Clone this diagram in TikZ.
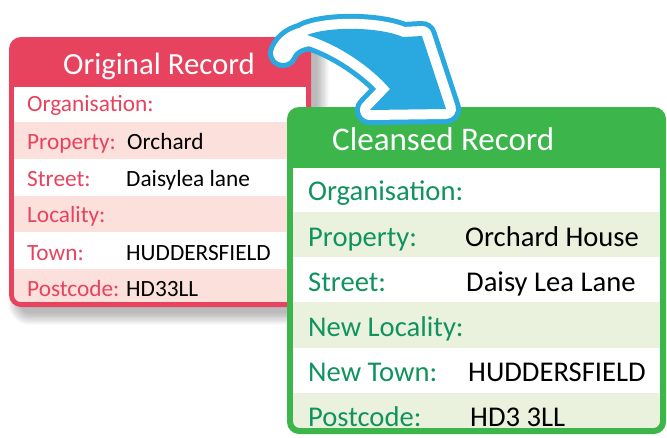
\documentclass[tikz,border=0pt]{standalone}
\usepackage{fontspec}
\setmainfont{Carlito}
\definecolor{recred}{HTML}{E8435E}
\definecolor{recpink}{HTML}{FCE0DC}
\definecolor{recgreen}{HTML}{3CB54A}
\definecolor{recmint}{HTML}{EAF2DE}
\definecolor{greenlabel}{HTML}{10935E}
\definecolor{arrowblue}{HTML}{29A9E0}
\begin{document}
\begin{tikzpicture}[x=1pt,y=-1pt,
  redtitle/.style={anchor=base, text=white, inner sep=0pt, font=\fontsize{30.8}{34}\selectfont},
  greentitle/.style={anchor=base west, text=white, inner sep=0pt, font=\fontsize{33}{38}\selectfont},
  redlabel/.style={anchor=base west, text=recred, inner sep=0pt, font=\fontsize{23.3}{27}\selectfont},
  redvalue/.style={anchor=base west, text=black, inner sep=0pt, font=\fontsize{23.3}{27}\selectfont},
  greenlbl/.style={anchor=base west, text=greenlabel, inner sep=0pt, font=\fontsize{28.6}{33}\selectfont},
  greenvalue/.style={anchor=base west, text=black, inner sep=0pt, font=\fontsize{28.6}{33}\selectfont},
  arrowline/.style={line join=round, line cap=round}]
\useasboundingbox (0,0) rectangle (667,437);

% soft shadow behind the original record card, cast down and to the right
\foreach \i [evaluate=\i as \r using 10+\i*1.3] in {0,...,9}
  \fill[black, opacity=0.032, rounded corners=\r pt]
    (20-\i*1.3, 48-\i*1.3) rectangle (317+\i*1.3, 313+\i*1.3);

% ---- original record card ----
\fill[recred, rounded corners=12pt] (9,37) rectangle (311,307);
\begin{scope}
  \clip[rounded corners=7pt] (14,80) rectangle (306,302);
  \fill[white]    (14,87)    rectangle (306,121.7);
  \fill[recpink]  (14,121.7) rectangle (306,159.3);
  \fill[white]    (14,159.3) rectangle (306,195.7);
  \fill[recpink]  (14,195.7) rectangle (306,232.3);
  \fill[white]    (14,232.3) rectangle (306,269);
  \fill[recpink]  (14,269)   rectangle (306,302);
\end{scope}
\node[redtitle] (otitle) at (159,74) {Original Record};
\node[redlabel] (oorg)  at (27,111.7) {Organisation:};
\node[redlabel] (oprop) at (27,149)   {Property:};
\node[redvalue] (oprv)  at (127,149)  {Orchard};
\node[redlabel] (ostr)  at (27,186)   {Street:};
\node[redvalue] (ostv)  at (126,186)  {Daisylea lane};
\node[redlabel] (oloc)  at (27,222.7) {Locality:};
\node[redlabel] (otown) at (27,260)   {Town:};
\node[redvalue] (otwv)  at (126,260)  {HUDDERSFIELD};
\node[redlabel] (opc)   at (27,296)   {Postcode:};
\node[redvalue] (opcv)  at (126,296)  {HD33LL};

% ---- cleansed record card ----
\fill[recgreen, rounded corners=12pt] (287,107) rectangle (666,434);
\begin{scope}
  \clip[rounded corners=7pt] (293,160) rectangle (660,428);
  \fill[white]   (293,168)   rectangle (660,211.7);
  \fill[recmint] (293,211.7) rectangle (660,256.7);
  \fill[white]   (293,256.7) rectangle (660,302.3);
  \fill[recmint] (293,302.3) rectangle (660,347.7);
  \fill[white]   (293,347.7) rectangle (660,393.3);
  \fill[recmint] (293,393.3) rectangle (660,428);
\end{scope}
\node[greentitle] (ctitle) at (332,150) {Cleansed Record};
\node[greenlbl]   (corg)  at (308,200)   {Organisation:};
\node[greenlbl]   (cprop) at (308,246)   {Property:};
\node[greenvalue] (cprv)  at (465,246)   {Orchard House};
\node[greenlbl]   (cstr)  at (308,291.7) {Street:};
\node[greenvalue] (cstv)  at (466,291.7) {Daisy Lea Lane};
\node[greenlbl]   (cloc)  at (308,336.7) {New Locality:};
\node[greenlbl]   (ctown) at (308,381.7) {New Town:};
\node[greenvalue] (ctwv)  at (468,381.7) {HUDDERSFIELD};
\node[greenlbl]   (cpc)   at (308,426.7) {Postcode:};
\node[greenvalue] (cpcv)  at (470,426.7) {HD3 3LL};

% ---- curved arrow: blue rim, white band, blue body ----
\draw[arrowline, arrowblue, line width=30pt]
  (309,36) .. controls (295,38) and (287,44) .. (283,53);
\draw[arrowline, arrowblue, line width=30pt]
  (307,35) .. controls (330,26) and (380,27) .. (403,37) -- (422,36) -- (446,109)
  -- (370,110) -- (390,89) .. controls (372,68) and (340,45) .. (307,35) -- cycle;
\draw[arrowline, white, line width=20pt]
  (309,36) .. controls (295,38) and (287,44) .. (283,53);
\draw[arrowline, white, fill=white, line width=20pt]
  (307,35) .. controls (330,26) and (380,27) .. (403,37) -- (422,36) -- (446,109)
  -- (370,110) -- (390,89) .. controls (372,68) and (340,45) .. (307,35) -- cycle;
\fill[arrowblue]
  (307,35) .. controls (330,26) and (380,27) .. (403,37) -- (422,36) -- (446,109)
  -- (370,110) -- (390,89) .. controls (372,68) and (340,45) .. (307,35) -- cycle;
\end{tikzpicture}
\end{document}
